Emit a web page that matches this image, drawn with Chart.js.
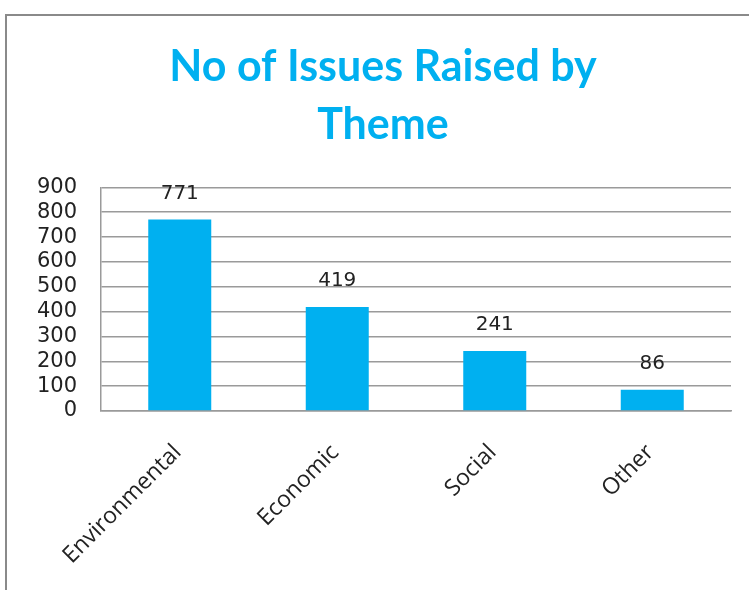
<!DOCTYPE html>
<html>
<head>
<meta charset="utf-8">
<script src="https://cdn.jsdelivr.net/npm/chart.js@4"></script>
<style>
  html, body { margin: 0; padding: 0; background: #fff; }
  #wrap { position: relative; width: 749px; height: 590px; overflow: hidden; }
  #frame {
    position: absolute; left: 5px; top: 14px; width: 900px; height: 800px;
    border-left: 2px solid #8a8a8a; border-top: 2px solid #8a8a8a;
  }
  #box { position: absolute; left: 0; top: 0; width: 749px; height: 590px; }
</style>
</head>
<body>
<div id="wrap">
  <div id="frame"></div>
  <div id="box"><canvas id="chart"></canvas></div>
</div>
<script>
// datos del gráfico
const categories = ['Environmental', 'Economic', 'Social', 'Other'];
const issueCounts = [771, 419, 241, 86];
const yTicks = [0, 100, 200, 300, 400, 500, 600, 700, 800, 900];
const titleLines = ['No of Issues Raised by', 'Theme'];

const blue = '#00B0F0';
const gridGray = '#9a9a9a';

// etiquetas de valor encima de cada barra
const valueLabels = {
    id: 'valueLabels',
    afterDatasetsDraw(chart) {
        const ctx = chart.ctx;
        const meta = chart.getDatasetMeta(0);
        ctx.save();
        ctx.font = '20px "DejaVu Sans"';
        ctx.fillStyle = '#222';
        ctx.textAlign = 'center';
        ctx.textBaseline = 'middle';
        meta.data.forEach((bar, i) => {
            ctx.fillText(String(issueCounts[i]), bar.x, bar.y - 26);
        });
        ctx.restore();
    }
};

new Chart(document.getElementById('chart'), {
    type: 'bar',
    data: {
        labels: categories,
        datasets: [{
            data: issueCounts,
            backgroundColor: blue,
            barPercentage: 0.4,
            categoryPercentage: 1.0
        }]
    },
    options: {
        responsive: true,
        maintainAspectRatio: false,
        animation: false,
        layout: { padding: { left: 35, right: 18, top: 0, bottom: 0 } },
        plugins: {
            legend: { display: false },
            tooltip: { enabled: false },
            title: {
                display: true,
                text: titleLines,
                color: blue,
                font: { family: 'Lato', size: 43, weight: 'bold', lineHeight: 1.33 },
                padding: { top: 39, bottom: 34 }
            }
        },
        scales: {
            y: {
                min: 0,
                max: 900,
                afterBuildTicks: (scale) => { scale.ticks = yTicks.map(v => ({ value: v })); },
                afterFit: (scale) => { scale.width = 66; },
                ticks: {
                    color: '#222',
                    font: { family: 'DejaVu Sans', size: 21, lineHeight: 1 },
                    padding: 24,
                    autoSkip: false
                },
                grid: { color: gridGray, lineWidth: 1.5, drawTicks: false },
                border: { display: true, color: gridGray, width: 1.5 }
            },
            x: {
                afterFit: (scale) => { scale.height = 179; },
                ticks: {
                    color: '#222',
                    font: { family: 'Open Sans', size: 23 },
                    minRotation: 45,
                    maxRotation: 45,
                    padding: 28,
                    labelOffset: -2,
                    autoSkip: false
                },
                grid: { display: false, drawTicks: false },
                border: { display: true, color: gridGray, width: 1.5 }
            }
        }
    },
    plugins: [valueLabels]
});
</script>
</body>
</html>
